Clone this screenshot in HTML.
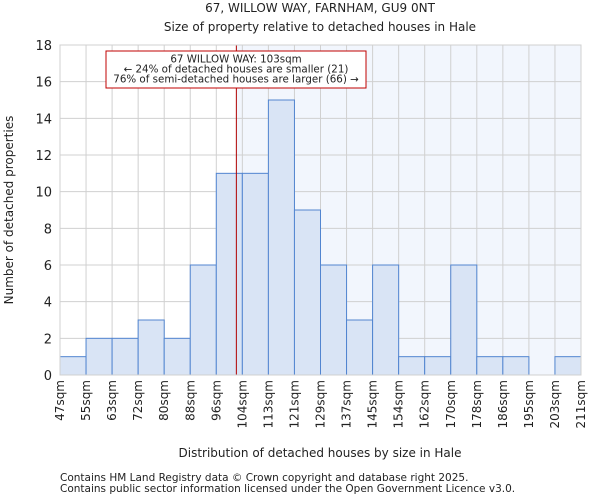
<!DOCTYPE html>
<html><head><meta charset="utf-8"><style>
body{margin:0;background:#fff;font-family:"DejaVu Sans","Liberation Sans",sans-serif;}
svg text{font-family:"DejaVu Sans","Liberation Sans",sans-serif;fill:#222;}
</style></head><body>
<svg id="chart" width="600" height="500">
<text x="320" y="12" font-size="12" text-anchor="middle">67, WILLOW WAY, FARNHAM, GU9 0NT</text>
<text x="320" y="31" font-size="12" text-anchor="middle">Size of property relative to detached houses in Hale</text>
<g id="plot"></g>
<text x="320" y="457" font-size="12" text-anchor="middle">Distribution of detached houses by size in Hale</text>
<text transform="translate(13,210) rotate(-90)" font-size="12" text-anchor="middle">Number of detached properties</text>
<text x="60" y="481" font-size="10.5">Contains HM Land Registry data © Crown copyright and database right 2025.</text>
<text x="60" y="492" font-size="10.5">Contains public sector information licensed under the Open Government Licence v3.0.</text>
</svg>
<script>
const binLabels=["47sqm","55sqm","63sqm","72sqm","80sqm","88sqm","96sqm","104sqm","113sqm","121sqm","129sqm","137sqm","145sqm","154sqm","162sqm","170sqm","178sqm","186sqm","195sqm","203sqm","211sqm"];
const counts=[1,2,2,3,2,6,11,11,15,9,6,3,6,1,1,6,1,1,0,1];
const yTicks=[0,2,4,6,8,10,12,14,16,18];
const markerBin=6.77;
const ns="http://www.w3.org/2000/svg";
const g=document.getElementById("plot");
const L=60,R=581,T=45,B=375,yMax=18;
const n=counts.length,bw=(R-L)/n;
const xs=i=>L+i*bw;
const ys=v=>B-(v/yMax)*(B-T);
function mk(t,a){const e=document.createElementNS(ns,t);for(const k in a)e.setAttribute(k,a[k]);g.appendChild(e);return e;}
const mx=xs(markerBin);
let e=mk("rect",{x:mx,y:T,width:R-mx,height:B-T,fill:"#f2f6fd"});


yTicks.forEach(v=>{
 let l=mk("line",{x1:L,x2:R,y1:ys(v),y2:ys(v),stroke:"#d0d0d0"});
 
 
 let t=mk("text",{x:L-8,y:ys(v)+5,"font-size":13,"text-anchor":"end"});
 t.textContent=v;
 
 
});
binLabels.forEach((s,i)=>{
 let l=mk("line",{x1:xs(i),x2:xs(i),y1:T,y2:B,stroke:"#d0d0d0"});
 
 
 let t=mk("text",{"font-size":12,"text-anchor":"end",transform:`translate(${xs(i)+4},${B+5}) rotate(-90)`});
 t.textContent=s;
 
 
});
counts.forEach((c,i)=>{
 if(c<=0)return;
 let r=mk("rect",{x:xs(i),y:ys(c),width:bw,height:B-ys(c),fill:"#d9e4f5",stroke:"#5285d0","stroke-width":1});
 
 
});
let ml=mk("line",{x1:mx,x2:mx,y1:T,y2:B,stroke:"#b00000","stroke-width":1});


let box=mk("rect",{x:106,y:51,width:260,height:37,fill:"#fff",stroke:"#c00000"});


["67 WILLOW WAY: 103sqm","← 24% of detached houses are smaller (21)","76% of semi-detached houses are larger (66) →"].forEach((s,i)=>{
 let t=mk("text",{x:236,y:62.5+i*10,"font-size":10.3,"text-anchor":"middle"});
 t.textContent=s;
 
 
});
let ax=mk("rect",{x:L,y:T,width:R-L,height:B-T,fill:"none",stroke:"#d0d0d0"});


</script>
</body></html>
